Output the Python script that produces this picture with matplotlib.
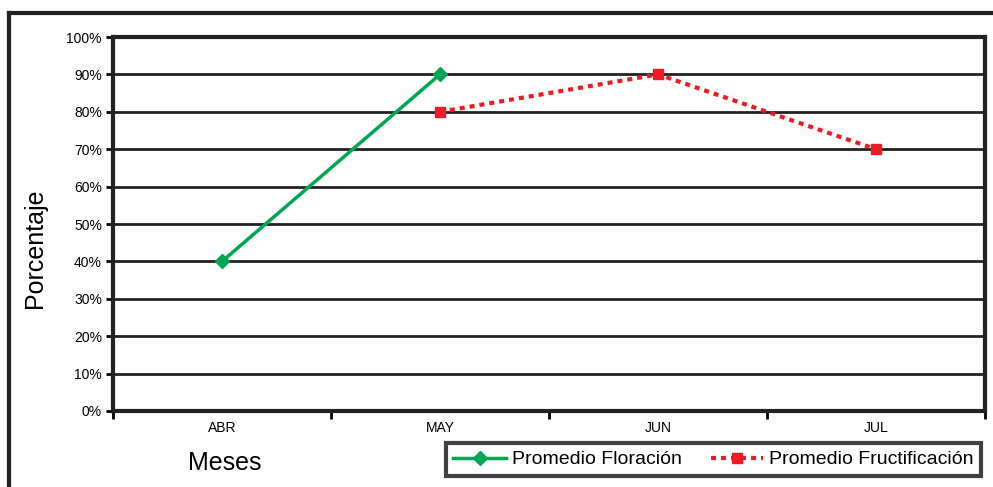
import numpy as np
import matplotlib
matplotlib.use("Agg")
import matplotlib.pyplot as plt
from matplotlib.lines import Line2D

plt.rcParams['font.family'] = ['Liberation Sans', 'DejaVu Sans']

months = ["ABR", "MAY", "JUN", "JUL"]
floracion = [40, 90, np.nan, np.nan]
fructificacion = [np.nan, 80, 90, 70]
yticks = [0, 10, 20, 30, 40, 50, 60, 70, 80, 90, 100]

fig = plt.figure(figsize=(9.93, 4.87), dpi=100)
ax = fig.add_axes([113 / 993, 1 - 411 / 487, (985 - 113) / 993, (411 - 37) / 487])

x = np.arange(len(months))
green = "#00A651"
red = "#ED1C24"

ax.plot(x, floracion, color=green, lw=2.5, marker="D", ms=7,
        label="Promedio Floración", zorder=3)
ax.plot(x, fructificacion, color=red, lw=3, ls=(0, (1.2, 1.2)), marker="s", ms=6.5,
        label="Promedio Fructificación", zorder=3)

ax.set_xlim(-0.5, 3.5)
ax.set_ylim(0, 100)
ax.set_yticks(yticks)
ax.set_yticklabels([f"{v}%" for v in yticks], fontsize=10)
ax.set_xticks(np.arange(-0.5, 4, 1))
ax.set_xticklabels([])
ax.set_xticks(x, minor=True)
ax.set_xticklabels(months, minor=True, fontsize=10)
ax.tick_params(axis="x", which="minor", length=0, pad=7)
ax.tick_params(axis="x", which="major", length=6, width=2, direction="out")
ax.tick_params(axis="y", length=5, width=2, direction="out", pad=3)

for v in yticks[1:-1]:
    ax.axhline(v, color="#222222", lw=2, zorder=1)
for s in ax.spines.values():
    s.set_linewidth(3)
    s.set_color("#222222")

fig.text(35 / 993, 1 - 248 / 487, "Porcentaje", fontsize=18, rotation=90,
         ha="center", va="center")
fig.text(225 / 993, 1 - 463 / 487, "Meses", fontsize=18, ha="center", va="center")

# outer frame (cropped)
fig.add_artist(Line2D([9 / 993, 9 / 993], [0, 1 - 13 / 487], transform=fig.transFigure,
                      color="#222222", lw=3))
fig.add_artist(Line2D([9 / 993, 1], [1 - 13 / 487, 1 - 13 / 487], transform=fig.transFigure,
                      color="#222222", lw=3))

leg = fig.legend(loc="center", bbox_to_anchor=((440 + 987) / 2 / 993, 1 - 459.5 / 487),
                 ncol=2, fontsize=14, frameon=True, fancybox=False, handlelength=2.7,
                 columnspacing=1.5, handletextpad=0.3, borderpad=0.4, borderaxespad=0)
leg.get_frame().set_edgecolor("#111111")
leg.get_frame().set_linewidth(3)

fig.savefig("out.png", dpi=100)
